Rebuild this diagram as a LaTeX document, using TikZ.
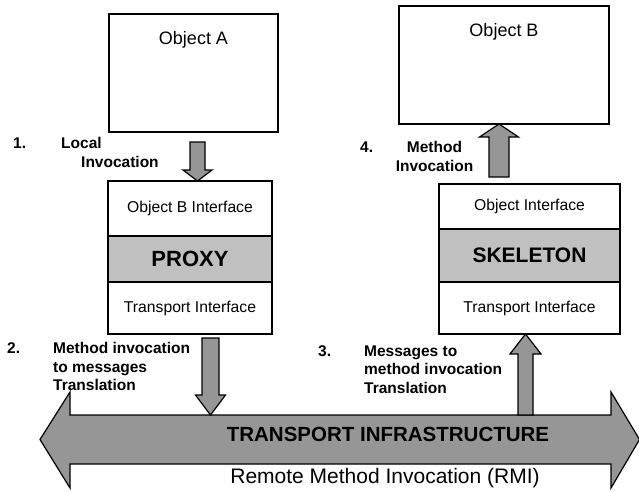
\documentclass[tikz,border=0pt]{standalone}
\usepackage{fontspec}
\setmainfont{Liberation Sans}
\usetikzlibrary{positioning, calc}
\definecolor{bandgray}{HTML}{C0C0C0}
\definecolor{arrowfill}{HTML}{969696}

% fat block arrow: from, to, shaft half width, head half width, head length
\newcommand{\fatarrow}[5]{%
  \coordinate (fa-s) at (#1);
  \coordinate (fa-t) at (#2);
  \coordinate (fa-b) at ($(fa-t)!#5!(fa-s)$);
  \draw[fatarr] ($(fa-s)!#3!90:(fa-t)$) -- ($(fa-b)!#3!-90:(fa-s)$)
    -- ($(fa-b)!#4!-90:(fa-s)$) -- (fa-t) -- ($(fa-b)!#4!90:(fa-s)$)
    -- ($(fa-b)!#3!90:(fa-s)$) -- ($(fa-s)!#3!-90:(fa-t)$) -- cycle;
}

\begin{document}
\begin{tikzpicture}[x=1pt, y=-1pt,
    box/.style={draw, line width=1.2pt, inner sep=0pt, outer sep=0pt},
    band/.style={box, fill=bandgray},
    fatarr/.style={draw, line width=1.2pt, fill=arrowfill, line join=miter},
    ifc/.style={font=\fontsize{15.7}{18}\selectfont},
    numlbl/.style={font=\fontsize{15.5}{18.5}\selectfont\bfseries, anchor=west, inner sep=0pt},
    stepnote/.style={font=\fontsize{15.5}{18.5}\selectfont\bfseries, inner sep=0pt}
]
\useasboundingbox (0,0) rectangle (639,491);

% Transport infrastructure (big double arrow)
\node[inner sep=0pt, outer sep=0pt, minimum width=541pt, minimum height=49pt] (trans) at (340.5,439.5) {};
\draw[fatarr] (trans.north west) -- (trans.north east) -- ++(0,-23)
  -- ($(trans.east)+(28.5,0)$) -- ($(trans.south east)+(0,24)$)
  -- (trans.south east) -- (trans.south west) -- ++(0,24)
  -- ($(trans.west)+(-30,0)$) -- ($(trans.north west)+(0,-23)$) -- cycle;
\node[font=\fontsize{20.5}{24}\selectfont\bfseries] (transtxt) at (388,434) {TRANSPORT INFRASTRUCTURE};
\node[font=\fontsize{21}{25}\selectfont] (rmi) at (385,478.5) {Remote Method Invocation (RMI)};

% Objects
\node[box, minimum width=169pt, minimum height=118pt,
      label={[anchor=base, yshift=-30.5pt, font=\fontsize{18}{21}\selectfont]north:Object A}] (objA) at (193.5,73) {};
\node[box, minimum width=210pt, minimum height=118pt,
      label={[anchor=base, yshift=-30.5pt, font=\fontsize{18}{21}\selectfont]north:Object B}] (objB) at (504,65) {};

% Proxy stack
\node[box, ifc, minimum width=164pt, minimum height=55pt] (pxtop) at (190,208.5) {Object B Interface};
\node[band, minimum width=164pt, minimum height=46pt, below=0pt of pxtop,
      font=\fontsize{22}{26}\selectfont\bfseries] (pxmid) {PROXY};
\node[box, ifc, minimum width=164pt, minimum height=52pt, below=0pt of pxmid] (pxbot) {Transport Interface};

% Skeleton stack
\node[box, ifc, minimum width=181pt, minimum height=45pt] (sktop) at (529.5,206.5) {Object Interface};
\node[band, minimum width=181pt, minimum height=53pt, below=0pt of sktop,
      font=\fontsize{21}{25}\selectfont\bfseries] (skmid) {SKELETON};
\node[box, ifc, minimum width=181pt, minimum height=52pt, below=0pt of skmid] (skbot) {Transport Interface};

% Block arrows between the parts
\coordinate (a1s) at (197.5,142);
\coordinate (a2s) at (210.5,338);
\coordinate (a3s) at (525.5,0 |- trans.north);
\coordinate (a4s) at (499,177);
\fatarrow{a1s}{a1s |- pxtop.north}{7.5pt}{14.5pt}{11pt}
\fatarrow{a2s}{a2s |- trans.north}{8.5pt}{15pt}{20pt}
\fatarrow{a3s}{a3s |- skbot.south}{7.5pt}{15.5pt}{20pt}
\fatarrow{a4s}{a4s |- objB.south}{10pt}{19.5pt}{13pt}

% Step labels
\node[numlbl] (n1) at (13,143) {1.};
\node[stepnote, anchor=north west, align=left] (s1) at (61,137.3) {Local\\\hspace*{20pt}Invocation};
\node[numlbl] (n2) at (7,348) {2.};
\node[stepnote, anchor=north west, align=left] (s2) at (53,342.3) {Method invocation\\to messages\\Translation};
\node[numlbl] (n3) at (318,351) {3.};
\node[stepnote, anchor=north west, align=left] (s3) at (364,345.3) {Messages to\\method invocation\\Translation};
\node[numlbl] (n4) at (360,147) {4.};
\node[stepnote, anchor=north, align=center] (s4) at (434.5,141.3) {Method\\Invocation};

\end{tikzpicture}
\end{document}
